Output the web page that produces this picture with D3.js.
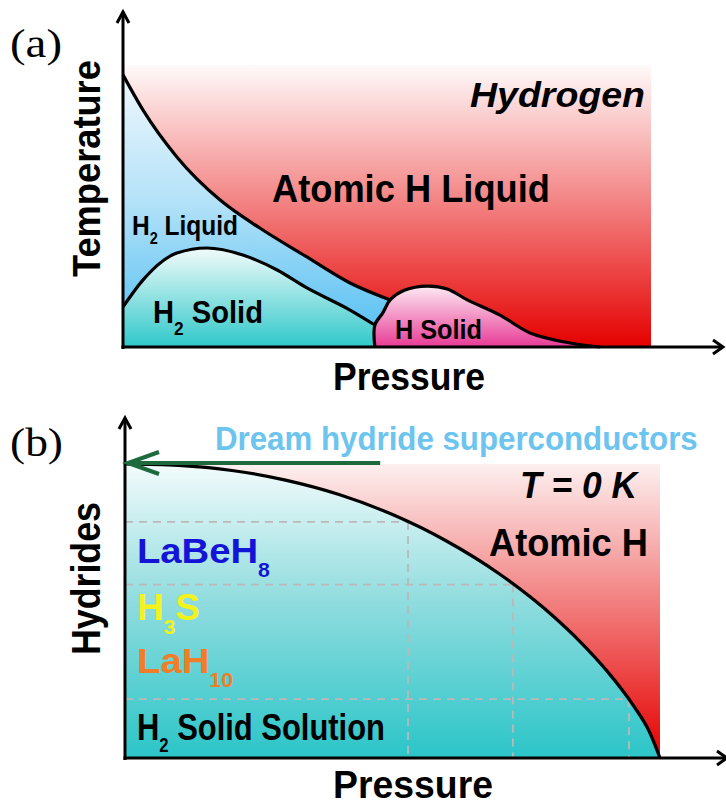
<!DOCTYPE html>
<html>
<head>
<meta charset="utf-8">
<script src="https://cdn.jsdelivr.net/npm/d3@7"></script>
<style>
  html, body { margin: 0; padding: 0; background: #fff; }
  svg { display: block; }
  text { white-space: pre; }
</style>
</head>
<body>
<script>
// ---- Panel (a): hydrogen phase diagram, pressure vs temperature (arbitrary units 0–100) ----
// Boundary between molecular H2 liquid and atomic H liquid
const meltLine = [[0, 96.5], [3.8, 84.0], [10.2, 67.4], [18.4, 52.1], [25.9, 42.2],
                  [34.5, 32.3], [43.0, 22.7], [50.6, 16.7]];
// Melting curve of solid H2
const h2SolidLine = [[0, 14.2], [3.8, 23.8], [10.2, 33.3], [15.9, 35.1], [22.7, 32.6],
                     [29.2, 27.3], [34.5, 21.3], [43.0, 13.1], [47.7, 7.8]];
// Dome of solid atomic H
const hSolidLine = [[47.7, 0], [47.7, 7.8], [49.2, 12.1], [50.6, 16.7], [53.4, 20.2],
                    [57.6, 21.6], [61.4, 20.6], [65.2, 16.7], [71.4, 11.3], [77.1, 5.0],
                    [84.7, 1.4], [90.3, 0]];

// ---- Panel (b): hydrides at T = 0 K, pressure vs hydrogen content (arbitrary units 0–100) ----
const hydrideDome = [[0, 100], [10, 99.5], [20, 97.8], [30, 94.5], [40, 89.6], [50, 82.8],
                     [60, 73.9], [70, 62.6], [80, 48.3], [85, 39.7], [90, 29.8], [95, 17.9],
                     [98, 9.0], [100, 0]];
// Points on the dome where the three hydride families sit
const hydrideGuides = [[52.9, 80.3], [72.5, 59.0], [94.2, 20.0]];
// Pressure where the "dream" arrow starts
const dreamArrowStart = 47.7;

const W = 726, H = 805;
const SANS = "'Liberation Sans', Arial, Helvetica, sans-serif";
const SERIF = "'Liberation Serif', 'Times New Roman', serif";

const svg = d3.select("body").append("svg")
  .attr("width", W).attr("height", H).attr("viewBox", `0 0 ${W} ${H}`);
const defs = svg.append("defs");

function vGrad(id, y1, y2, stops) {
  const g = defs.append("linearGradient").attr("id", id)
    .attr("gradientUnits", "userSpaceOnUse")
    .attr("x1", 0).attr("x2", 0).attr("y1", y1).attr("y2", y2);
  stops.forEach(([o, c]) => g.append("stop").attr("offset", o).attr("stop-color", c));
  return `url(#${id})`;
}

// Text label with optional subscripts, squeezed horizontally to a given width
function label(parent, o) {
  const g = parent.append("g");
  const t = g.append("text")
    .attr("font-family", o.family || SANS)
    .attr("font-size", o.size)
    .attr("font-weight", o.weight || "bold")
    .attr("font-style", o.style || "normal")
    .attr("fill", o.color || "#000");
  let shift = 0;
  o.parts.forEach(p => {
    const ts = t.append("tspan").text(p.t);
    if (p.sub) {
      ts.attr("font-size", p.size).attr("dy", p.dy - shift);
      shift = p.dy;
    } else if (shift) {
      ts.attr("dy", -shift);
      shift = 0;
    }
  });
  const bb = t.node().getBBox();
  t.attr("x", -bb.x);
  const sx = o.width ? o.width / bb.width : 1;
  g.attr("transform", `translate(${o.x},${o.y}) rotate(${o.rotate || 0}) scale(${sx},1)`);
  return g;
}

const smooth = d3.curveMonotoneX;
const loop = d3.curveCatmullRom.alpha(0.5);
const STROKE = 3.2;

// ================= Panel (a) =================
const xA = d3.scaleLinear().domain([0, 100]).range([123, 651]);
const yA = d3.scaleLinear().domain([0, 100]).range([347, 65]);
const gA = svg.append("g");

const redA = vGrad("redA", yA(100), yA(0), [[0, "#fffafa"], [0.45, "#f48c8c"], [1, "#e50000"]]);
const blueA = vGrad("blueA", yA(96.5), yA(8), [[0, "#eef8fd"], [0.5, "#b5e2f8"], [1, "#5ec3f3"]]);
const tealA = vGrad("tealA", yA(35.1), yA(0), [[0, "#f2fbfa"], [1, "#2fc8c9"]]);
const pinkA = vGrad("pinkA", yA(21.6), yA(0), [[0, "#fdeaf3"], [1, "#e83a95"]]);

gA.append("rect")
  .attr("x", xA(0)).attr("y", yA(100))
  .attr("width", xA(100) - xA(0)).attr("height", yA(0) - yA(100))
  .attr("fill", redA);

const areaA = c => d3.area().x(d => xA(d[0])).y0(yA(0)).y1(d => yA(d[1])).curve(c);
const lineA = c => d3.line().x(d => xA(d[0])).y(d => yA(d[1])).curve(c);

gA.append("path").attr("d", areaA(smooth)(meltLine)).attr("fill", blueA);
gA.append("path").attr("d", areaA(smooth)(h2SolidLine)).attr("fill", tealA);
gA.append("path").attr("d", areaA(loop)(hSolidLine)).attr("fill", pinkA);

[[meltLine, smooth], [h2SolidLine, smooth], [hSolidLine, loop]].forEach(([d, c]) =>
  gA.append("path").attr("d", lineA(c)(d)).attr("fill", "none")
    .attr("stroke", "#000").attr("stroke-width", STROKE).attr("stroke-linejoin", "round"));

// axes with open arrowheads
const axisStyle = s => s.attr("fill", "none").attr("stroke", "#000")
  .attr("stroke-width", 3).attr("stroke-linecap", "butt").attr("stroke-linejoin", "miter");
gA.append("path").attr("d", `M${xA(0)},${yA(0) + 2} V12`).call(axisStyle);
gA.append("path").attr("d", `M${xA(0) - 6},23 L${xA(0)},12 L${xA(0) + 6},23`).call(axisStyle);
gA.append("path").attr("d", `M${xA(0) - 1.5},${yA(0)} H722`).call(axisStyle);
gA.append("path").attr("d", `M713,${yA(0) - 7} L723,${yA(0)} L713,${yA(0) + 7}`).call(axisStyle);

label(gA, { x: 10, y: 57, size: 40, family: SERIF, weight: "normal", width: 52, parts: [{ t: "(a)" }] });
label(gA, { x: 100, y: 277, size: 38, rotate: -90, width: 217, parts: [{ t: "Temperature" }] });
label(gA, { x: 470, y: 107, size: 35, style: "italic", width: 175, parts: [{ t: "Hydrogen" }] });
label(gA, { x: 272, y: 202, size: 38, width: 278, parts: [{ t: "Atomic H Liquid" }] });
label(gA, { x: 132, y: 235, size: 27, width: 106,
  parts: [{ t: "H" }, { t: "2", sub: true, size: 16, dy: 9 }, { t: " Liquid" }] });
label(gA, { x: 153, y: 323, size: 32, width: 110,
  parts: [{ t: "H" }, { t: "2", sub: true, size: 19, dy: 12 }, { t: " Solid" }] });
label(gA, { x: 395, y: 339, size: 28, width: 87, parts: [{ t: "H Solid" }] });
label(gA, { x: 333, y: 390, size: 38, width: 152, parts: [{ t: "Pressure" }] });

// ================= Panel (b) =================
const xB = d3.scaleLinear().domain([0, 100]).range([125, 660]);
const yB = d3.scaleLinear().domain([0, 100]).range([758, 464]);
const gB = svg.append("g");

const redB = vGrad("redB", yB(100), yB(0), [[0, "#fdf0f0"], [0.45, "#f38484"], [1, "#e60000"]]);
const tealB = vGrad("tealB", yB(100), yB(0), [[0, "#f3fbfc"], [0.47, "#8fdcde"], [1, "#2bc5c8"]]);

gB.append("rect")
  .attr("x", xB(0)).attr("y", yB(100))
  .attr("width", xB(100) - xB(0)).attr("height", yB(0) - yB(100))
  .attr("fill", redB);

const areaB = d3.area().x(d => xB(d[0])).y0(yB(0)).y1(d => yB(d[1])).curve(smooth);
const lineB = d3.line().x(d => xB(d[0])).y(d => yB(d[1])).curve(smooth);

gB.append("path").attr("d", areaB(hydrideDome)).attr("fill", tealB);

// dashed guides from each hydride point to both axes
const guides = gB.append("g").attr("fill", "none").attr("stroke", "#b9b9b9")
  .attr("stroke-width", 1.8).attr("stroke-dasharray", "8,6");
hydrideGuides.forEach(([p, h]) => {
  guides.append("path").attr("d", `M${xB(0)},${yB(h)} H${xB(p)}`);
  guides.append("path").attr("d", `M${xB(p)},${yB(h)} V${yB(0)}`);
});

gB.append("path").attr("d", lineB(hydrideDome)).attr("fill", "none")
  .attr("stroke", "#000").attr("stroke-width", STROKE);

gB.append("path").attr("d", `M${xB(0)},${yB(0) + 2} V418`).call(axisStyle);
gB.append("path").attr("d", `M${xB(0) - 6},429 L${xB(0)},418 L${xB(0) + 6},429`).call(axisStyle);
gB.append("path").attr("d", `M${xB(0) - 1.5},${yB(0)} H726`).call(axisStyle);
gB.append("path").attr("d", `M717,${yB(0) - 7} L727,${yB(0)} L717,${yB(0) + 7}`).call(axisStyle);

// green arrow toward the ambient-pressure axis
const arrowG = gB.append("g").attr("fill", "none").attr("stroke", "#1d6b3c")
  .attr("stroke-width", 4).attr("stroke-linecap", "butt");
arrowG.append("path").attr("d", `M${xB(dreamArrowStart)},${yB(100) - 1} H${xB(0) + 3}`);
arrowG.append("path").attr("d",
  `M${xB(0) + 34},${yB(100) - 12} L${xB(0) + 3},${yB(100) - 1} L${xB(0) + 34},${yB(100) + 10}`);

label(gB, { x: 10, y: 456, size: 40, family: SERIF, weight: "normal", width: 53, parts: [{ t: "(b)" }] });
label(gB, { x: 215, y: 450, size: 33, color: "#6cc4ef", width: 483, parts: [{ t: "Dream hydride superconductors" }] });
label(gB, { x: 520, y: 498, size: 36, style: "italic", width: 120, parts: [{ t: "T = 0 K" }] });
label(gB, { x: 489, y: 556, size: 39, width: 159, parts: [{ t: "Atomic H" }] });
label(gB, { x: 100, y: 655, size: 40, rotate: -90, width: 153, parts: [{ t: "Hydrides" }] });
label(gB, { x: 137, y: 563, size: 36, color: "#1414d6", width: 133,
  parts: [{ t: "LaBeH" }, { t: "8", sub: true, size: 20, dy: 14 }] });
label(gB, { x: 137, y: 620, size: 37, color: "#f2f21c", width: 63,
  parts: [{ t: "H" }, { t: "3", sub: true, size: 21, dy: 14 }, { t: "S" }] });
label(gB, { x: 137, y: 673, size: 36, color: "#f07d28", width: 96,
  parts: [{ t: "LaH" }, { t: "10", sub: true, size: 20, dy: 14 }] });
label(gB, { x: 137, y: 740, size: 37, width: 248,
  parts: [{ t: "H" }, { t: "2", sub: true, size: 20, dy: 12 }, { t: " Solid Solution" }] });
label(gB, { x: 333, y: 798, size: 39, width: 160, parts: [{ t: "Pressure" }] });
</script>
</body>
</html>
